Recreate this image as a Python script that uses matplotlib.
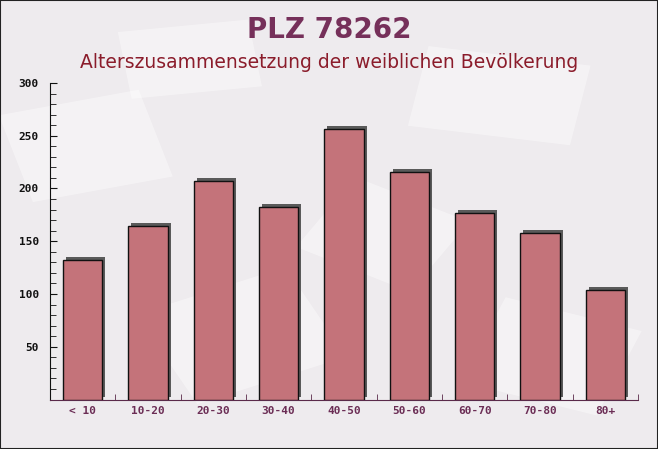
import matplotlib.pyplot as plt
import matplotlib.patches as mpatches
import matplotlib.transforms as mtransforms
from matplotlib.ticker import MultipleLocator

# data
categories = ["< 10", "10-20", "20-30", "30-40", "40-50", "50-60", "60-70", "70-80", "80+"]
values = [132, 164, 207, 182, 256, 216, 177, 158, 104]

TITLE = "PLZ 78262"
SUBTITLE = "Alterszusammensetzung der weiblichen Bevölkerung"

W, H = 658, 449
fig = plt.figure(figsize=(W / 100, H / 100), dpi=100)
fig.patch.set_facecolor("#eeebee")

# faint envelope-like shapes in the background
for (x, y, w, h, ang) in [(0.05, 0.55, 0.22, 0.2, 15), (0.62, 0.72, 0.25, 0.18, -10),
                          (0.3, 0.1, 0.25, 0.22, 25), (0.7, 0.15, 0.22, 0.2, -20),
                          (0.2, 0.78, 0.2, 0.15, 8), (0.45, 0.45, 0.2, 0.18, -30)]:
    r = mpatches.Rectangle((x, y), w, h, angle=ang, transform=fig.transFigure,
                           facecolor="white", alpha=0.4, edgecolor="none", zorder=-5)
    fig.patches.append(r)

# thin outline around the whole image
fig.patches.append(mpatches.Rectangle((0, 0), 1, 1, transform=fig.transFigure,
                                      fill=False, edgecolor="#222222", linewidth=1.5, zorder=10))

ax = fig.add_axes([50 / W, (H - 399.5) / H, 588 / W, 316.5 / H])
ax.set_facecolor("none")

x = list(range(len(categories)))
shadow = mtransforms.ScaledTranslation(3 / 100, 3 / 100, fig.dpi_scale_trans)
ax.bar(x, values, width=0.6, color="#5a5a5a", transform=ax.transData + shadow, zorder=2)
ax.bar(x, values, width=0.6, color="#c4737a", edgecolor="#111111", linewidth=1.0, zorder=3)

ax.set_xlim(-0.5, len(categories) - 0.5)
ax.set_ylim(0, 300)

for s in ["top", "right"]:
    ax.spines[s].set_visible(False)
ax.spines["left"].set_color("#111111")
ax.spines["bottom"].set_color("#5a2a4a")

ax.yaxis.set_major_locator(MultipleLocator(50))
ax.yaxis.set_minor_locator(MultipleLocator(10))
ax.tick_params(axis="y", which="major", direction="in", length=5, color="#111111", pad=8)
ax.tick_params(axis="y", which="minor", direction="in", length=4, color="#111111")
ax.set_yticks([50, 100, 150, 200, 250, 300])
for lbl in ax.get_yticklabels():
    lbl.set_fontfamily("DejaVu Sans Mono")
    lbl.set_fontweight("bold")
    lbl.set_fontsize(8)
    lbl.set_color("#111111")

ax.set_xticks(x)
ax.set_xticklabels(categories, fontfamily="DejaVu Sans Mono", fontweight="bold",
                   fontsize=8, color="#6b2d55")
ax.tick_params(axis="x", which="major", length=0, pad=5)
ax.set_xticks([i + 0.5 for i in x], minor=True)
ax.tick_params(axis="x", which="minor", direction="in", length=4, color="#5a2a4a")

fig.text(0.5, 1 - 30 / H, TITLE, ha="center", va="center", fontsize=20,
         fontweight="bold", color="#76305a")
fig.text(0.5, 1 - 62 / H, SUBTITLE, ha="center", va="center", fontsize=13.5,
         color="#8b1c2b")

fig.savefig("out.png", dpi=100, facecolor=fig.get_facecolor())
